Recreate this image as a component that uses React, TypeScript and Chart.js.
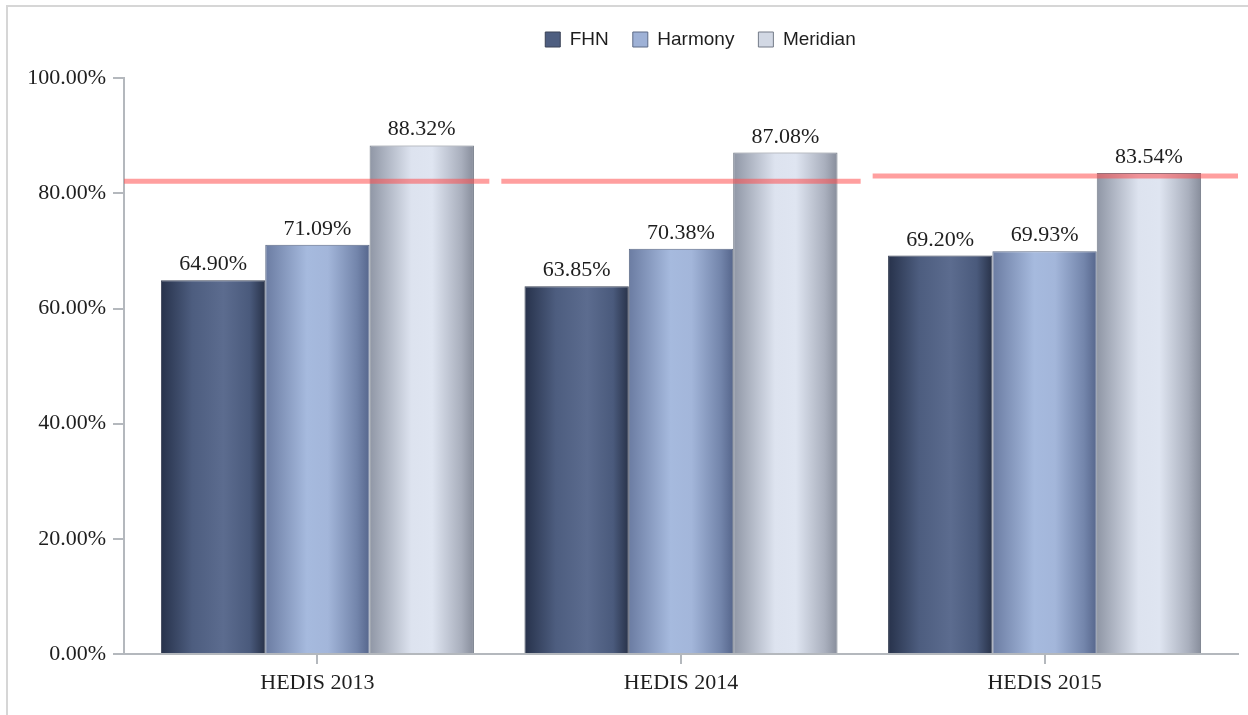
import React, { useEffect, useRef } from 'react';
import { Chart, registerables } from 'chart.js';

Chart.register(...registerables);

// ---- data ----
const categories = ['HEDIS 2013', 'HEDIS 2014', 'HEDIS 2015'];
const seriesNames = ['FHN', 'Harmony', 'Meridian'];
const fhnValues = [64.9, 63.85, 69.2];
const harmonyValues = [71.09, 70.38, 69.93];
const meridianValues = [88.32, 87.08, 83.54];
const targetValues = [82.1, 82.1, 83.0];
const yTickValues = [0, 20, 40, 60, 80, 100];

// ---- styles ----
const SERIF = "'Liberation Serif', 'Times New Roman', serif";
const SANS = "'Liberation Sans', Arial, sans-serif";
const AXIS_COLOR = '#b4b8bd';
const TEXT_COLOR = '#1e1e1e';
const X_INSET = 0.032;
const LEGEND_CENTER_X = 700.5;

const gradientStops: Array<Array<[number, string]>> = [
  [[0, '#27324b'], [0.3, '#4d5d7f'], [0.6, '#5c6c8f'], [0.85, '#4a5a7c'], [1, '#283249']],
  [[0, '#6b7ca2'], [0.4, '#a6bade'], [0.6, '#a3b6da'], [0.88, '#7385ab'], [1, '#56668c']],
  [[0, '#8f96a5'], [0.4, '#dde3ef'], [0.6, '#dfe5f1'], [0.88, '#a9afbd'], [1, '#878d9b']],
];
const solidColors = ['#4e5e80', '#9eb1d6', '#d2d8e4'];
const borderColors = ['#3a4256', '#5c6a86', '#747b88'];

const gradientPlugin = {
  id: 'barGradients',
  beforeDatasetsDraw(chart: any) {
    const ctx = chart.ctx;
    chart.data.datasets.forEach((_ds: any, di: number) => {
      const meta = chart.getDatasetMeta(di);
      meta.data.forEach((el: any) => {
        const x = el.x;
        const w = el.width;
        const g = ctx.createLinearGradient(x - w / 2, 0, x + w / 2, 0);
        gradientStops[di].forEach(([o, c]) => g.addColorStop(o, c));
        el.options.backgroundColor = g;
      });
    });
  },
};

const targetPlugin = {
  id: 'targetLines',
  afterDatasetsDraw(chart: any) {
    const { ctx, chartArea, scales } = chart;
    const n = categories.length;
    const seg = (chartArea.right - chartArea.left) / n;
    const gap = 6;
    ctx.save();
    ctx.strokeStyle = 'rgba(255, 80, 80, 0.55)';
    ctx.lineWidth = 5;
    targetValues.forEach((t, i) => {
      const y = scales.y.getPixelForValue(t);
      const x0 = chartArea.left + i * seg + (i > 0 ? gap : 0);
      const x1 = chartArea.left + (i + 1) * seg - (i < n - 1 ? gap : 0);
      ctx.beginPath();
      ctx.moveTo(x0, y);
      ctx.lineTo(x1, y);
      ctx.stroke();
    });
    ctx.restore();
  },
};

const labelPlugin = {
  id: 'valueLabels',
  afterDraw(chart: any) {
    const ctx = chart.ctx;
    ctx.save();
    ctx.font = `22px ${SERIF}`;
    ctx.fillStyle = TEXT_COLOR;
    ctx.textAlign = 'center';
    ctx.textBaseline = 'alphabetic';
    chart.data.datasets.forEach((ds: any, di: number) => {
      const meta = chart.getDatasetMeta(di);
      meta.data.forEach((el: any, i: number) => {
        const v = ds.data[i].y;
        ctx.fillText(v.toFixed(2) + '%', el.x, el.y - 10);
      });
    });
    ctx.restore();
  },
};

const legendShiftPlugin = {
  id: 'legendShift',
  afterLayout(chart: any) {
    const lg = chart.legend;
    if (!lg) return;
    const w = lg.right - lg.left;
    lg.left = LEGEND_CENTER_X - w / 2;
    lg.right = lg.left + w;
  },
};

export default function App() {
  const ref = useRef<HTMLCanvasElement | null>(null);

  useEffect(() => {
    if (!ref.current) return;
    const seriesValues = [fhnValues, harmonyValues, meridianValues];
    const chart = new Chart(ref.current, {
      type: 'bar',
      data: {
        datasets: seriesNames.map((name, di) => ({
          label: name,
          data: seriesValues[di].map((v, i) => ({ x: i, y: v })),
          backgroundColor: () => solidColors[di],
          borderColor: borderColors[di],
          borderWidth: 1,
          barPercentage: 1,
          categoryPercentage: 0.861,
        })),
      },
      options: {
        responsive: false,
        animation: false,
        devicePixelRatio: 1,
        layout: { padding: { left: 0, right: 10, top: 6, bottom: 12.6 } },
        scales: {
          x: {
            type: 'linear',
            offset: false,
            min: -0.5 - X_INSET,
            max: categories.length - 0.5 + X_INSET,
            afterBuildTicks: (s: any) => {
              s.ticks = categories.map((_, i) => ({ value: i }));
            },
            ticks: {
              callback: (v: any) => categories[Number(v)] ?? '',
              font: { family: SERIF, size: 22 },
              color: TEXT_COLOR,
              padding: 6,
              maxRotation: 0,
              autoSkip: false,
            },
            grid: { offset: false, drawOnChartArea: false, drawTicks: true, tickLength: 10, color: AXIS_COLOR, lineWidth: 2 },
            border: { display: true, color: AXIS_COLOR, width: 2 },
          },
          y: {
            min: 0,
            max: 100,
            afterBuildTicks: (s: any) => {
              s.ticks = yTickValues.map((v) => ({ value: v }));
            },
            afterFit: (s: any) => {
              s.width = 124;
            },
            ticks: {
              callback: (v: any) => Number(v).toFixed(2) + '%',
              font: { family: SERIF, size: 22 },
              color: TEXT_COLOR,
              padding: 7,
            },
            grid: { drawOnChartArea: false, drawTicks: true, tickLength: 11, color: AXIS_COLOR, lineWidth: 2 },
            border: { display: true, color: AXIS_COLOR, width: 2 },
          },
        },
        plugins: {
          tooltip: { enabled: false },
          title: { display: false },
          legend: {
            position: 'top',
            weight: 3000,
            labels: {
              boxWidth: 15,
              boxHeight: 15,
              padding: 24,
              color: TEXT_COLOR,
              font: { family: SANS, size: 19 },
            },
          } as any,
          subtitle: {
            display: true,
            text: '',
            weight: 500,
            font: { size: 1 },
            padding: { top: 0, bottom: 18 },
          } as any,
        },
      } as any,
      plugins: [gradientPlugin, targetPlugin, labelPlugin, legendShiftPlugin],
    });
    return () => chart.destroy();
  }, []);

  return (
    <div style={{ position: 'fixed', left: 0, top: 0, width: 1248, height: 715, overflow: 'hidden', background: '#fff' }}>
      <div
        style={{
          position: 'absolute',
          left: 6,
          top: 5,
          width: 1300,
          height: 720,
          borderTop: '2px solid #d6d6d6',
          borderLeft: '2px solid #d6d6d6',
        }}
      />
      <canvas ref={ref} width={1248} height={715} style={{ position: 'absolute', left: 0, top: 0, width: 1248, height: 715 }} />
    </div>
  );
}
